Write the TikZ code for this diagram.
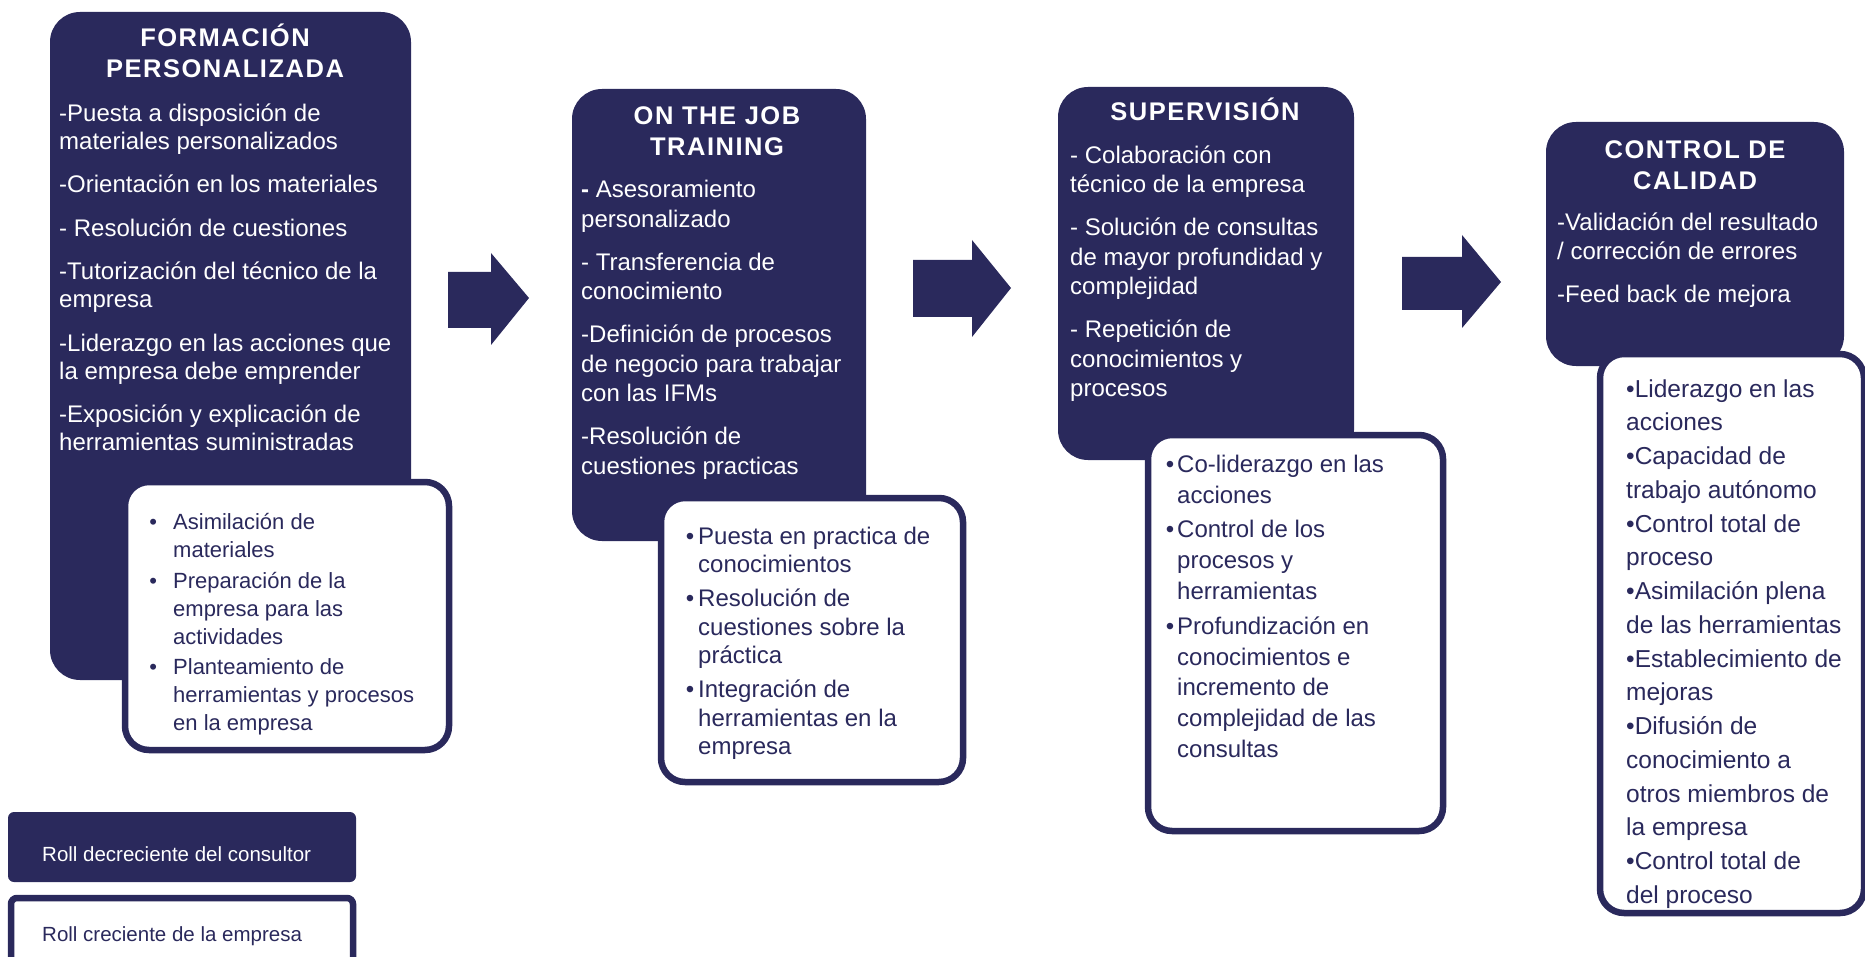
\documentclass[tikz,border=0pt]{standalone}
\usepackage{fontspec}
\setmainfont{Liberation Sans}
\newfontfamily\titlefont[LetterSpace=6]{Liberation Sans}
\definecolor{navy}{RGB}{42,41,92}
\newcommand{\up}{\rule{0pt}{25pt}}
\newcommand{\bul}[1]{\llap{•\hspace{#1}}}
\tikzset{
  darkbox/.style={fill=navy, draw=none, rounded corners=30pt, inner sep=0pt, outer sep=0pt, anchor=north west},
  whitebox/.style={fill=white, draw=navy, line width=6.5pt, rounded corners=24pt, inner sep=0pt, outer sep=0pt, anchor=north west},
  title/.style={text=white, align=center, anchor=north, inner sep=0pt, font=\titlefont\bfseries\fontsize{25.5}{31}\selectfont},
  bodyw/.style={text=white, align=left, anchor=north west, inner sep=0pt},
  bodyn/.style={text=navy, align=left, anchor=north west, inner sep=0pt},
  legendtext/.style={anchor=base west, inner sep=0pt, font=\fontsize{20.5}{24}\selectfont},
  blockarrow/.style={fill=navy}
}
\begin{document}
\begin{tikzpicture}[x=1pt,y=-1pt]
\useasboundingbox (0,0) rectangle (1865,957);
\begin{scope}
\clip (0,0) rectangle (1865,957);
% dark stage boxes
\node[darkbox, minimum width=361pt, minimum height=668pt] (d1) at (50,12) {};
\node[darkbox, minimum width=294pt, minimum height=452pt] (d2) at (572,89) {};
\node[darkbox, minimum width=296pt, minimum height=373pt] (d3) at (1058,87) {};
\node[darkbox, minimum width=298pt, minimum height=244pt] (d4) at (1546,122) {};
% white boxes
\node[whitebox, minimum width=324pt, minimum height=268pt] (w1) at (125,482) {};
\node[whitebox, minimum width=302pt, minimum height=284pt] (w2) at (661,498) {};
\node[whitebox, minimum width=295pt, minimum height=396pt] (w3) at (1148,435) {};
\node[whitebox, minimum width=264pt, minimum height=559pt] (w4) at (1600,354) {};
% legend boxes
\node[darkbox, rounded corners=6pt, minimum width=348pt, minimum height=70pt] (ld) at (8,812) {};
\node[whitebox, rounded corners=6pt, minimum width=342pt, minimum height=90pt] (lw) at (11,898) {};
% block arrows
\fill[blockarrow] (448,272) -- (491,272) -- (491,253) -- (529,298) -- (491,345) -- (491,328) -- (448,328) -- cycle;
\fill[blockarrow] (913,260) -- (972,260) -- (972,240) -- (1011,288) -- (972,337) -- (972,317) -- (913,317) -- cycle;
\fill[blockarrow] (1402,257) -- (1462,257) -- (1462,235) -- (1501,282) -- (1462,328) -- (1462,310) -- (1402,310) -- cycle;
% titles
\node[title] (t1) at (225,21) {\up FORMACIÓN\\PERSONALIZADA};
\node[title] (t2) at (717,99) {\up ON THE JOB\\TRAINING};
\node[title] (t3) at (1205,95) {\up SUPERVISIÓN};
\node[title] (t4) at (1695,133.5) {\up CONTROL DE\\CALIDAD};
% dark box texts
\node[bodyw, font=\fontsize{24}{28}\selectfont] (b1) at (59,96)
 {\up-Puesta a disposición de\\materiales personalizados\\[15.5pt]-Orientación en los materiales\\[15.5pt]- Resolución de cuestiones\\[15.5pt]-Tutorización del técnico de la\\empresa\\[15.5pt]-Liderazgo en las acciones que\\la empresa debe emprender\\[15.5pt]-Exposición y explicación de\\herramientas suministradas};
\node[bodyw, font=\fontsize{24}{29.5}\selectfont] (b2) at (581,172.5)
 {\up\textbf{-} Asesoramiento\\personalizado\\[13.5pt]- Transferencia de\\conocimiento\\[13.5pt]-Definición de procesos\\de negocio para trabajar\\con las IFMs\\[13.5pt]-Resolución de\\cuestiones practicas};
\node[bodyw, font=\fontsize{24}{29.5}\selectfont] (b3) at (1070,138)
 {\up- Colaboración con\\técnico de la empresa\\[13.5pt]- Solución de consultas\\de mayor profundidad y\\complejidad\\[13.5pt]- Repetición de\\conocimientos y\\procesos};
\node[bodyw, font=\fontsize{24}{29.5}\selectfont] (b4) at (1557,205)
 {\up-Validación del resultado\\/ corrección de errores\\[13.5pt]-Feed back de mejora};
% white box texts
\node[bodyn, font=\fontsize{22}{28}\selectfont] (c1) at (173,504.5)
 {\up\bul{16pt}Asimilación de\\materiales\\[2.5pt]\bul{16pt}Preparación de la\\empresa para las\\actividades\\[2.5pt]\bul{16pt}Planteamiento de\\herramientas y procesos\\en la empresa};
\node[bodyn, font=\fontsize{24}{28.5}\selectfont] (c2) at (698,519)
 {\up\bul{4pt}Puesta en practica de\\conocimientos\\[5.5pt]\bul{4pt}Resolución de\\cuestiones sobre la\\práctica\\[5.5pt]\bul{4pt}Integración de\\herramientas en la\\empresa};
\node[bodyn, font=\fontsize{24}{30.8}\selectfont] (c3) at (1177,447)
 {\up\bul{3pt}Co-liderazgo en las\\acciones\\[4pt]\bul{3pt}Control de los\\procesos y\\herramientas\\[4pt]\bul{3pt}Profundización en\\conocimientos e\\incremento de\\complejidad de las\\consultas};
\node[bodyn, font=\fontsize{24.5}{33.75}\selectfont] (c4) at (1626,372)
 {\up•Liderazgo en las\\acciones\\•Capacidad de\\trabajo autónomo\\•Control total de\\proceso\\•Asimilación plena\\de las herramientas\\•Establecimiento de\\mejoras\\•Difusión de\\conocimiento a\\otros miembros de\\la empresa\\•Control total de\\del proceso};
% legend texts
\node[legendtext, text=white] (l1) at (42,861) {Roll decreciente del consultor};
\node[legendtext, text=navy] (l2) at (42,941) {Roll creciente de la empresa};
\end{scope}
\end{tikzpicture}
\end{document}
